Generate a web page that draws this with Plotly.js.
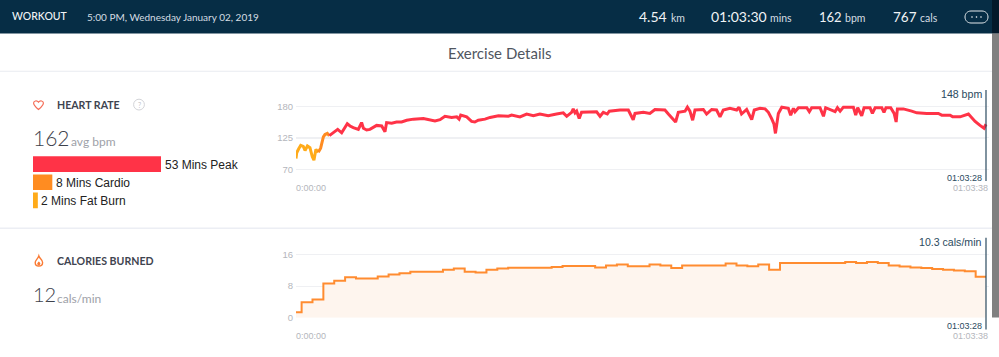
<!DOCTYPE html>
<html>
<head>
<meta charset="utf-8">
<script src="https://cdn.plot.ly/plotly-3.0.1.min.js"></script>
<style>html,body{margin:0;padding:0;background:#fff;overflow:hidden}#c{width:999px;height:357px}</style>
</head>
<body>
<div id="c"></div>
<script>
// ---- data (time in seconds from start of workout) ----
const fatBurnTime = [0,4,15,26,40,50,63,77,90,99,110,123];
const fatBurnBpm  = [89,99,106,112,110,103,111,108,92,86,105,100];
const cardioTime  = [123,136,151,160,173,184];
const cardioBpm   = [100,107,127,131,133,129];
const peakTime = [184,206,230,252,265,283,298,316,344,353,362,372,390,408,445,473,491,500,528,555,583,611,648,703,739,767,795,822,859,887,900,909,942,969,987,1006,1043,1071,1117,1172,1190,1236,
1273,1310,1346,1392,1438,1475,1494,1521,1530,1540,1549,1563,1576,1659,1678,1696,1718,1729,1788,1834,1861,1871,1917,1953,1981,2036,2055,2095,2110,2147,2160,2174,2189,2202,2248,2266,2294,2321,2340,2358,2395,2432,2445,2459,2487,2515,2529,2561,
2589,2607,2625,2638,2646,2653,2662,2681,2717,2730,2745,2754,2773,2819,2833,2846,2892,2911,2923,2975,2988,3003,3021,3076,3089,3100,3122,3135,3168,3181,3196,3233,3245,3256,3282,3301,3312,3319,3352,3398,3426,3481,3545,3564,3610,3624,3665,3711,3748,3775,3797,3808];
const peakBpm  = [129,134,140,134,140,150,146,143,140,146,152,142,139,140,147,146,136,152,151,153,153,156,158,159,157,155,157,163,161,162,158,165,162,154,153,156,158,161,164,163,165,162,
167,164,167,164,167,169,163,170,176,169,172,159,170,171,163,170,167,172,174,174,157,168,170,168,175,174,167,153,170,172,179,172,156,174,175,167,175,174,162,174,177,174,179,167,175,157,174,177,
176,170,159,149,133,148,168,179,177,165,177,171,178,178,171,178,178,163,178,171,178,172,179,179,165,178,164,178,178,168,178,178,170,178,178,168,153,176,176,172,169,168,168,165,165,162,162,167,154,147,142,149];
const calMinuteValues = [1.4,3.9,4.6,8.6,9.3,10.2,9.9,9.9,10.4,10.9,11.2,11.6,11.6,11.6,12.1,12.4,11.6,11.4,12.1,12.4,
12.6,12.6,12.6,12.6,12.8,13.05,13.05,13.05,12.7,13.2,13.4,13.0,13.0,13.4,13.2,12.55,13.2,13.2,13.2,13.2,13.65,13.2,13.0,13.4,12.1,
13.8,13.8,13.8,13.8,13.8,13.8,14.05,13.8,14.05,13.8,13.15,12.9,12.7,12.55,12.3,12.1,11.9,11.7,10.35,10.35];
const zoneNames = ['53 Mins Peak','8 Mins Cardio','2 Mins Fat Burn'];
const zoneMinutes = [53,8,2];
const zoneColors = ['#FF3347','#FF8C21','#FFAB1A'];
const hrTicks = [70,125,180];
const calTicks = [0,8,16];
const END = 3808;

// ---- page geometry helpers ----
const W=999,H=357;
const fx=p=>p/W, fy=p=>1-p/H;
const pxPerSec=690/END;
const xRange=[0,END+(988.5-986)/pxPerSec];
const xDomain=[fx(296),fx(988.5)];
const calTimes=calMinuteValues.map((v,i)=>i===0?0:(i===calMinuteValues.length-1?END:31+60*(i-1)));

const common={mode:'lines',hoverinfo:'skip',showlegend:false};
const traces=[
 {...common,x:fatBurnTime,y:fatBurnBpm,line:{color:zoneColors[2],width:3},xaxis:'x',yaxis:'y'},
 {...common,x:cardioTime,y:cardioBpm,line:{color:zoneColors[1],width:3},xaxis:'x',yaxis:'y'},
 {...common,x:peakTime,y:peakBpm,line:{color:zoneColors[0],width:3},xaxis:'x',yaxis:'y'},
 {...common,x:calTimes,y:calMinuteValues,line:{color:'#FF8C30',width:2,shape:'hv'},fill:'tozeroy',fillcolor:'#FEF5EE',xaxis:'x2',yaxis:'y2'},
 {type:'bar',orientation:'h',x:zoneMinutes,y:zoneNames,marker:{color:zoneColors},xaxis:'x3',yaxis:'y3',width:0.86,hoverinfo:'skip',showlegend:false}
];

const yAxisBase={fixedrange:true,showline:false,zeroline:false,showgrid:true,gridcolor:'#EFF0F3',gridwidth:1,ticks:'',
  tickfont:{family:'Liberation Sans',size:9.5,color:'#B4B6BC'},tickmode:'array',ticklabelstandoff:2,ticklabelshift:1.5};
const xAxisBase={fixedrange:true,showline:false,zeroline:false,showgrid:false,showticklabels:false,ticks:'',range:xRange,domain:xDomain};

const hrPx=62.7/110, calPx=63.4/16;
const layout={
 width:W,height:H,margin:{l:0,r:0,t:0,b:0},paper_bgcolor:'#fff',plot_bgcolor:'rgba(0,0,0,0)',showlegend:false,
 xaxis:{...xAxisBase,anchor:'y'},
 yaxis:{...yAxisBase,anchor:'x',tickvals:hrTicks,domain:[fy(172),fy(100)],range:[70-(172-169.3)/hrPx,180+(106.6-100)/hrPx]},
 xaxis2:{...xAxisBase,anchor:'y2'},
 yaxis2:{...yAxisBase,anchor:'x2',tickvals:calTicks,domain:[fy(317.7),fy(246)],range:[0,(317.7-246)/calPx]},
 xaxis3:{fixedrange:true,visible:false,domain:[fx(33),fx(33+128*60/53)],range:[0,60],anchor:'y3'},
 yaxis3:{fixedrange:true,visible:false,domain:[fy(209.5),fy(155)],autorange:'reversed',anchor:'x3',type:'category'},
 shapes:[],annotations:[]
};

// header, separators, scrollbar
const S=layout.shapes;
const rect=(x0,y0,x1,y1,fill,layer)=>S.push({type:'rect',xref:'paper',yref:'paper',x0:fx(x0),x1:fx(x1),y0:fy(y0),y1:fy(y1),fillcolor:fill,line:{width:0},layer:layer||'below'});
rect(0,0,999,33.5,'#062D45');
rect(0,70.7,999,71.7,'#E9EBF0');
rect(0,227.5,999,229,'#ECEEF4');
rect(992,0,999,33.5,'#03192A','above');
rect(992,33.5,999,317.5,'#808080','above');
// thicker middle gridline of the heart-rate panel
S.push({type:'line',xref:'x',yref:'y',x0:0,x1:END,y0:hrTicks[1],y1:hrTicks[1],line:{color:'#EFF0F3',width:2},layer:'below'});
// pixel path helper
const P=(d)=>d.replace(/(-?[\d.]+),(-?[\d.]+)/g,(m,a,b)=>fx(+a)+','+fy(+b));
const path=(d,o)=>S.push(Object.assign({type:'path',xref:'paper',yref:'paper',path:P(d),layer:'above'},o));
// heart icon
path('M38.5,109.5 C35,106.5 33.6,105.2 33.6,103 C33.6,101 36.8,99.9 38.5,102.2 C40.2,99.9 43.4,101 43.4,103 C43.4,105.2 42,106.5 38.5,109.5 Z',{line:{color:'#F56D57',width:1.2},fillcolor:'rgba(0,0,0,0)'});
// question circle
S.push({type:'circle',xref:'paper',yref:'paper',x0:fx(133.6),x1:fx(144.4),y0:fy(99.2),y1:fy(110),line:{color:'#D3D4D8',width:1},layer:'above'});
// flame icon
path('M38.8,256 C39.5,258.5 42.6,259.5 42.6,262.4 C42.6,264.8 40.8,266 38.8,266 C36.8,266 35.2,264.6 35.2,262.4 C35.2,260.4 37.9,258.8 38.8,256 Z',{line:{color:'#FA7A33',width:1.4},fillcolor:'rgba(0,0,0,0)'});
path('M38.8,261.5 C39.8,262.4 40.4,263 40.4,263.7 C40.4,264.6 39.7,265.2 38.8,265.2 C37.9,265.2 37.2,264.6 37.2,263.7 C37.2,263 38,262.4 38.8,261.5 Z',{line:{width:0},fillcolor:'#FA7A33'});
// more-button pill
path('M971,11 L982,11 C985.5,11 988,13.6 988,17 C988,20.4 985.5,23 982,23 L971,23 C967.5,23 965,20.4 965,17 C965,13.6 967.5,11 971,11 Z',{line:{color:'#E4E9EC',width:1},fillcolor:'rgba(0,0,0,0)'});
[972,976.5,981].forEach(c=>S.push({type:'circle',xref:'paper',yref:'paper',x0:fx(c-.8),x1:fx(c+.8),y0:fy(16.2),y1:fy(17.8),fillcolor:'#fff',line:{width:0},layer:'above'}));
// end cursors tied to the x axes
S.push({type:'line',xref:'x',yref:'paper',x0:END,x1:END,y0:fy(90),y1:fy(181),line:{color:'#2B4A60',width:1.2},layer:'above'});
S.push({type:'line',xref:'x2',yref:'paper',x0:END,x1:END,y0:fy(237.7),y1:fy(329.5),line:{color:'#2B4A60',width:1.2},layer:'above'});

// text
const T=(text,x,y,size,color,family,anchor,weight)=>layout.annotations.push({text,xref:'paper',yref:'paper',x:fx(x),y:fy(y),xanchor:anchor||'left',yanchor:'middle',showarrow:false,borderpad:0,borderwidth:0,
  font:{family:family||'Lato',size,color,weight:weight||400}});
const L='Lato',A='Liberation Sans';
T('WORKOUT',12,16,10.5,'#F2F5F7',L,'left',500);
T('5:00 PM, Wednesday January 02, 2019',86.5,16.5,10,'#D5DDE3',L);
T('4.54',638.5,16.5,14,'#F0F3F5',L); T('km',671,17.5,10.5,'#D5DDE3',L);
T('01:03:30',711,16.5,14,'#F0F3F5',L); T('mins',770,17.5,10.5,'#D5DDE3',L);
T('162',818.5,16.5,13,'#F0F3F5',L); T('bpm',845,17.5,10.5,'#D5DDE3',L);
T('767',892.5,16.5,13.5,'#F0F3F5',L); T('cals',920,17.5,10.5,'#D5DDE3',L);
T('Exercise Details',500,53,15,'#50565F',L,'center');
T('HEART RATE',57,104.5,10.6,'#3F4450',L,'left',700);
T('?',139,104.5,7,'#C4C5CA',L,'center');
T('162',33,137.5,21,'#3E424C',L,'left',300);
T('avg bpm',71,141.5,12,'#9EA1A8',L);
T('CALORIES BURNED',57,260.5,10.6,'#3F4450',L,'left',700);
T('12',33,294,20,'#3E424C',L,'left',300);
T('cals/min',57,298,12,'#9EA1A8',L);
T('148 bpm',981.5,94.5,10.6,'#2B4A60',A,'right');
T('10.3 cals/min',981.5,242.3,10.6,'#2B4A60',A,'right');
T('01:03:28',981.5,178,9,'#2B4A60',A,'right');
T('01:03:38',987.5,187.7,9,'#B4B6BC',A,'right');
T('0:00:00',296,187.7,9,'#B4B6BC',A);
T('01:03:28',981.5,326.3,9,'#2B4A60',A,'right');
T('01:03:38',987.5,335.7,9,'#B4B6BC',A,'right');
T('0:00:00',296,335.7,9,'#B4B6BC',A);
// zone bar labels, placed through the bar axes
zoneNames.forEach((name,i)=>layout.annotations.push({text:name,xref:'x3',yref:'y3',x:zoneMinutes[i],y:name,xanchor:'left',yanchor:'middle',xshift:2.5,yshift:-1,showarrow:false,borderpad:0,
  font:{family:A,size:12,color:'#222'}}));

Plotly.newPlot('c',traces,layout,{displayModeBar:false,staticPlot:true});
</script>
</body>
</html>
